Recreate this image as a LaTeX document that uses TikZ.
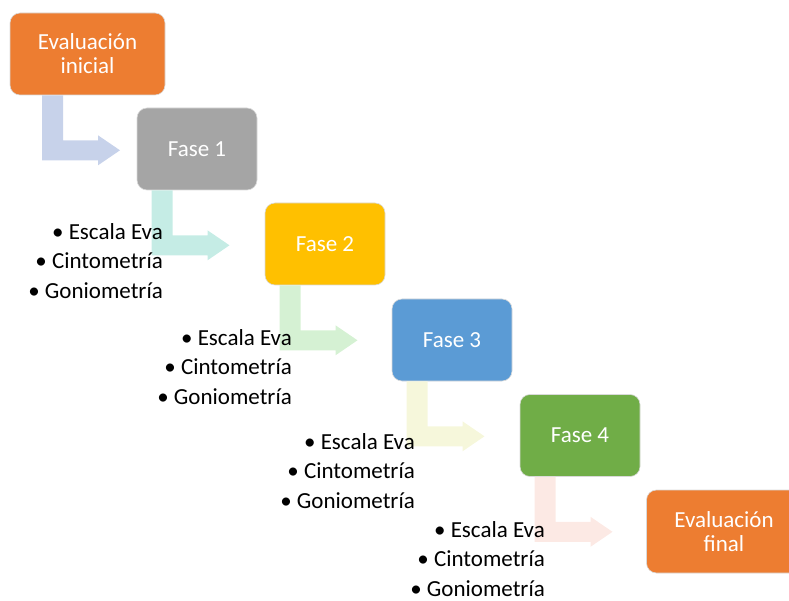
\documentclass[tikz,border=0pt]{standalone}
\usepackage{fontspec}
\setmainfont{Carlito}
\definecolor{cOrange}{HTML}{ED7D31}
\definecolor{cGrey}{HTML}{A5A5A5}
\definecolor{cYellow}{HTML}{FFC000}
\definecolor{cBlue}{HTML}{5B9BD5}
\definecolor{cGreen}{HTML}{70AD47}
\definecolor{aBlue}{HTML}{C7D2EA}
\definecolor{aTeal}{HTML}{C5ECE5}
\definecolor{aGreen}{HTML}{D5F1D3}
\definecolor{aYellow}{HTML}{F6F7DB}
\definecolor{aPink}{HTML}{FCE9E4}
\tikzset{
  phase/.style={rounded corners=10pt, draw=white!85!black, line width=0.6pt, text=white,
    minimum width=120pt, minimum height=82pt, align=center, inner sep=2pt,
    font=\fontsize{23}{24}\selectfont},
  widephase/.style={phase, minimum width=155pt},
  blist/.style={anchor=east, align=right, inner sep=0pt, text=black,
    font=\fontsize{23}{29.5}\selectfont},
  bentarrow/.pic={\path[pic actions] (-45.5,0) -- (-24.5,0) -- (-24.5,45) -- (10.5,45) -- (10.5,40)
    -- (32.5,55) -- (10.5,70) -- (10.5,65) -- (-45.5,65) -- cycle;}
}
\begin{document}
\begin{tikzpicture}[x=1pt,y=-1pt]
\useasboundingbox (0,0) rectangle (789,601);
\clip (0,0) rectangle (789,601);
\node[widephase, fill=cOrange] (b0) at (87.5,54) {Evaluación\\inicial};
\node[phase, fill=cGrey] (b1) at (197,149) {Fase 1};
\node[phase, fill=cYellow] (b2) at (325,244) {Fase 2};
\node[phase, fill=cBlue] (b3) at (452,340) {Fase 3};
\node[phase, fill=cGreen] (b4) at (580,435.5) {Fase 4};
\node[widephase, fill=cOrange, minimum height=83pt] (b5) at (724,531.5) {Evaluación\\final};
\pic[fill=aBlue] at (b0.south) {bentarrow};
\pic[fill=aTeal] at (b1.south) {bentarrow};
\pic[fill=aGreen] at (b2.south) {bentarrow};
\pic[fill=aYellow] at (b3.south) {bentarrow};
\pic[fill=aPink] at (b4.south) {bentarrow};
\node[blist] (l1) at (163,261) {• Escala Eva\\• Cintometría\\• Goniometría};
\node[blist] (l2) at (292,367) {• Escala Eva\\• Cintometría\\• Goniometría};
\node[blist] (l3) at (415,471) {• Escala Eva\\• Cintometría\\• Goniometría};
\node[blist] (l4) at (545,559) {• Escala Eva\\• Cintometría\\• Goniometría};
\end{tikzpicture}
\end{document}
